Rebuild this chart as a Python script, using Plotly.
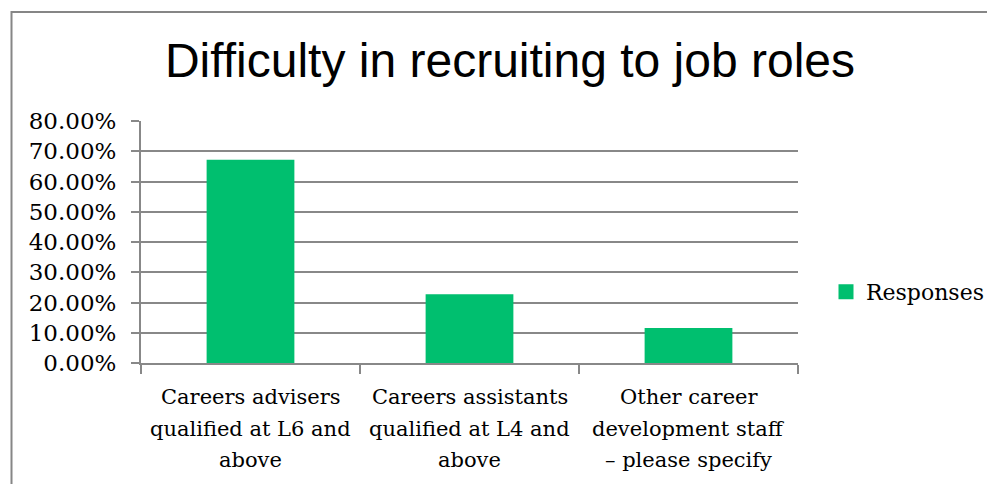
import plotly.graph_objects as go

category_lines = [
    ["Careers advisers", "qualified at L6 and", "above"],
    ["Careers assistants", "qualified at L4 and", "above"],
    ["Other career", "development staff", "– please specify"],
]
categories = ["<br>".join(c) for c in category_lines]
values = [0.6667, 0.2222, 0.1111]
series_name = "Responses"
title_text = "Difficulty in recruiting to job roles"

W, H = 995, 484
# page body has an 8px margin; figure coordinates are offset by it
L, T = 133, 113
PW, PH = 657, 242
R = W - L - PW
B = H - T - PH

serif = "DejaVu Serif"
grey = "#888888"
green = "#00BF6F"

fig = go.Figure()
fig.add_trace(go.Bar(
    x=categories, y=values, name=series_name,
    marker=dict(color=green, line=dict(width=3, color=green)),
    width=0.387, showlegend=True,
))

fig.update_layout(
    width=W, height=H,
    margin=dict(l=L, r=R, t=T, b=B, pad=0, autoexpand=False),
    paper_bgcolor="white", plot_bgcolor="white",
    title=dict(text=title_text, x=502 / W, xanchor="center",
               y=1 - 52 / H, yanchor="middle", yref="container",
               font=dict(family="Liberation Sans", size=48, color="black")),
    showlegend=True,
    legend=dict(x=685 / PW, xanchor="left", y=(363 - 292) / PH, yanchor="middle",
                font=dict(family=serif, size=22, color="black"),
                itemwidth=30, bgcolor="rgba(0,0,0,0)"),
    xaxis=dict(
        type="category", tickson="boundaries", ticks="outside", ticklen=9,
        tickcolor=grey, tickwidth=2, showline=True, linecolor=grey,
        linewidth=2, showgrid=False, showticklabels=False,
    ),
    yaxis=dict(
        range=[0, 0.8], dtick=0.1, tick0=0, tickformat=".2%",
        ticks="outside", ticklen=8, tickcolor=grey, tickwidth=2,
        showline=True, linecolor=grey, linewidth=2,
        showgrid=True, gridcolor=grey, gridwidth=2, zeroline=False,
        ticklabelstandoff=10,
        tickfont=dict(family=serif, size=23, color="black"),
    ),
)

line_offsets = [34, 65.5, 97]
for cat, lines in zip(categories, category_lines):
    for off, txt in zip(line_offsets, lines):
        fig.add_annotation(x=cat, xref="x", y=0, yref="paper", text=txt,
                           showarrow=False, xanchor="center", yanchor="middle",
                           yshift=-off,
                           font=dict(family=serif, size=21, color="black"))

fig.add_shape(type="rect", xref="paper", yref="paper",
              x0=(3.5 - L) / PW, x1=1.6,
              y0=-0.8, y1=(T + PH - 4) / PH,
              line=dict(color="#868686", width=2), fillcolor="rgba(0,0,0,0)",
              layer="below")

fig.write_html("out.html")
